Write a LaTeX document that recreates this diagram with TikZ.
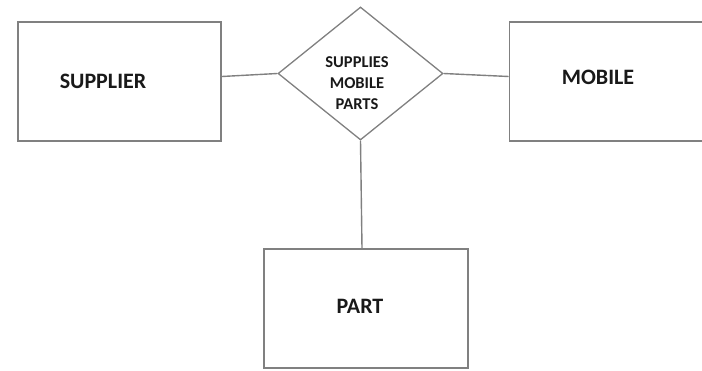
\documentclass[tikz,border=0pt]{standalone}
\usepackage{fontspec}
\setmainfont{Carlito}
\usetikzlibrary{shapes.geometric}
\definecolor{edgegray}{RGB}{128,128,128}
\definecolor{inkblack}{RGB}{25,25,25}
\begin{document}
\begin{tikzpicture}[x=1pt,y=-1pt,
  entity/.style={draw=edgegray, line width=1.6pt, fill=white, inner sep=0pt},
  title/.style={font=\bfseries\fontsize{22}{26}\selectfont, text=inkblack, inner sep=0pt},
  relation/.style={draw=edgegray, line width=1.3pt, diamond, fill=white, inner sep=0pt,
    minimum width=165pt, minimum height=133pt},
  reltext/.style={font=\bfseries\fontsize{16.5}{21}\selectfont, text=inkblack, align=center},
  link/.style={draw=edgegray, line width=1.4pt}]
\useasboundingbox (0,0) rectangle (702,370);
% entity boxes
\node[entity, minimum width=203pt, minimum height=119pt] (supplier) at (119.5,81.5) {};
\node[entity, minimum width=203pt, minimum height=119pt] (mobile) at (611,81.5) {};
\node[entity, minimum width=204pt, minimum height=119pt] (part) at (366,308.5) {};
% relationship
\node[relation] (supplies) at (360.5,73.5) {};
\node[reltext] (rellabel) at (357,83) {SUPPLIES\\MOBILE\\PARTS};
% entity names
\node[title] (supplierlabel) at (103,81) {SUPPLIER};
\node[title] (mobilelabel) at (598,77) {MOBILE};
\node[title] (partlabel) at (360,306) {PART};
% connectors
\draw[link] (supplier.east |- 0,76.5) -- (supplies.west);
\draw[link] (supplies.east) -- (mobile.west |- 0,76.5);
\draw[link] (supplies.south) -- (part.north -| 362,0);
\end{tikzpicture}
\end{document}
